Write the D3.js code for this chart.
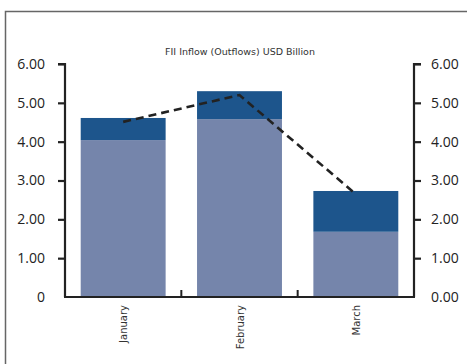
<!DOCTYPE html>
<html><head><meta charset="utf-8">
<script src="https://cdn.jsdelivr.net/npm/d3@7"></script>
<style>body{margin:0;background:#fff}svg{display:block}</style>
</head><body>
<script>
const categories = ["January", "February", "March"];
const lowerValues = [4.04, 4.58, 1.68];
const upperValues = [0.57, 0.72, 1.05];
const lineValues = [4.51, 5.20, 2.65];
const leftTickLabels = ["0", "1.00", "2.00", "3.00", "4.00", "5.00", "6.00"];
const rightTickLabels = ["0.00", "1.00", "2.00", "3.00", "4.00", "5.00", "6.00"];
const title = "FII Inflow (Outflows) USD Billion";

const W = 467, H = 364;
const svg = d3.select("body").append("svg").attr("width", W).attr("height", H);

// frame
svg.append("path").attr("d", `M5.5,${H} V11.5 H${W}`).attr("fill","none").attr("stroke","#666").attr("stroke-width",1.5);

const x0 = 65, x1 = 414, yTop = 64, yBot = 297;
const x = d3.scaleBand().domain(categories).range([x0, x1]).paddingInner(0.27).paddingOuter(0.135);
const xb = d3.scaleBand().domain(categories).range([x0, x1]);
const y = d3.scaleLinear().domain([0, 6]).range([yBot, yTop]);

svg.append("text").attr("x", 240).attr("y", 55).attr("text-anchor","middle")
  .attr("font-family","'DejaVu Sans', sans-serif").attr("font-size", 9.5).attr("fill","#333").text(title);

// bars
const g = svg.append("g");
g.selectAll("rect.lo").data(categories).join("rect").attr("class","lo")
  .attr("x", d => x(d)).attr("width", x.bandwidth())
  .attr("y", (d,i) => y(lowerValues[i])).attr("height", (d,i) => y(0) - y(lowerValues[i]))
  .attr("fill", "#7585ab");
g.selectAll("rect.hi").data(categories).join("rect").attr("class","hi")
  .attr("x", d => x(d)).attr("width", x.bandwidth())
  .attr("y", (d,i) => y(lowerValues[i] + upperValues[i])).attr("height", (d,i) => y(lowerValues[i]) - y(lowerValues[i] + upperValues[i]))
  .attr("fill", "#1d558c");

// line
const line = d3.line().x((d,i) => xb(categories[i]) + xb.bandwidth()/2).y(d => y(d));
svg.append("path").datum(lineValues).attr("d", line).attr("fill","none")
  .attr("stroke","#222").attr("stroke-width",2.6).attr("stroke-dasharray","8,5");

// axes
const font = "'Open Sans', 'DejaVu Sans', sans-serif";
const left = d3.axisLeft(y).tickValues(d3.range(0,7)).tickSize(7).tickPadding(13)
  .tickFormat((d,i) => leftTickLabels[i]);
const la = svg.append("g").attr("transform", `translate(${x0},0)`).call(left);
const right = d3.axisRight(y).tickValues(d3.range(0,7)).tickSize(7).tickPadding(10)
  .tickFormat((d,i) => rightTickLabels[i]);
const ra = svg.append("g").attr("transform", `translate(${x1},0)`).call(right);
[la, ra].forEach(a => {
  a.select(".domain").attr("stroke","#222").attr("stroke-width",2.2)
    .attr("d", a === la ? `M-7,${yTop}H0V${yBot}` : `M7,${yTop}H0V${yBot}`);
  a.selectAll(".tick line").attr("stroke","#222").attr("stroke-width",2.2);
  a.selectAll(".tick").filter(d => d === 0).select("line").remove();
  a.selectAll("text").attr("font-family", font).attr("font-size", 14).attr("fill","#222");
});

// x axis
const xa = svg.append("g").attr("transform", `translate(0,${yBot})`);
xa.append("line").attr("x1", x0-1).attr("x2", x1+1).attr("stroke","#222").attr("stroke-width",2.2);
xa.selectAll("line.t").data(categories.slice(1)).join("line").attr("class","t")
  .attr("x1", d => xb(d)).attr("x2", d => xb(d)).attr("y1", 0).attr("y2", -7)
  .attr("stroke","#222").attr("stroke-width",2);
xa.selectAll("text").data(categories).join("text")
  .attr("transform", d => `translate(${xb(d) + xb.bandwidth()/2 + 4},8) rotate(-90)`)
  .attr("text-anchor","end").attr("font-family","'DejaVu Sans', sans-serif").attr("font-size", 10)
  .attr("fill","#333").text(d => d);
</script>
</body></html>
